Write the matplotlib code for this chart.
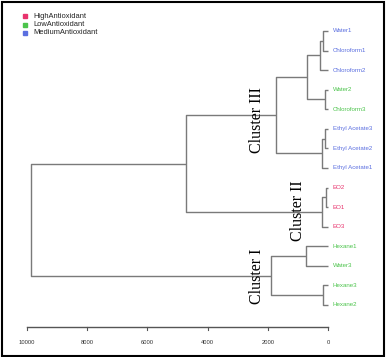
import matplotlib
matplotlib.use("Agg")
import matplotlib.pyplot as plt
from matplotlib.patches import Rectangle

# ---- data ----
leaves = ["Water1", "Chloroform1", "Chloroform2", "Water2", "Chloroform3",
          "Ethyl Acetate3", "Ethyl Acetate2", "Ethyl Acetate1",
          "EO2", "EO1", "EO3", "Hexane1", "Water3", "Hexane3", "Hexane2"]
groups = ["Medium", "Medium", "Medium", "Low", "Low",
          "Medium", "Medium", "Medium",
          "High", "High", "High", "Low", "Low", "Low", "Low"]
# merges: (child_a, child_b, height); leaves are 0..14, new nodes 15..
merges = [
    (0, 1, 150),      # 15
    (15, 2, 270),     # 16
    (3, 4, 100),      # 17
    (16, 17, 700),    # 18
    (5, 6, 90),       # 19
    (19, 7, 190),     # 20
    (18, 20, 1730),   # 21
    (8, 9, 65),       # 22
    (22, 10, 200),    # 23
    (21, 23, 4720),   # 24
    (11, 12, 730),    # 25
    (13, 14, 170),    # 26
    (25, 26, 1890),   # 27
    (24, 27, 9870),   # 28
]
xticks = [10000, 8000, 6000, 4000, 2000, 0]
legend_labels = ["HighAntioxidant", "LowAntioxidant", "MediumAntioxidant"]
legend_keys = ["High", "Low", "Medium"]
colors = {"High": "#E8336D", "Low": "#4CC44C", "Medium": "#5B6FE0"}
cluster_labels = [("Cluster III", 2350, 4.55), ("Cluster II", 1000, 9.2), ("Cluster I", 2350, 12.55)]

# ---- figure ----
W, H = 386, 357
fig = plt.figure(figsize=(W / 100, H / 100), dpi=100)
ax = fig.add_axes([0, 0, 1, 1])
ax.set_axis_off()
# pixel mapping: x=10000 at px 27, x=0 at px 328 ; leaf 0 at py 31, spacing 19.57
sx = 10000 / 301.0
ax.set_xlim(10000 + 27 * sx, 0 - (W - 328) * sx)
sp = 19.57
ax.set_ylim((H - 31) / sp, -31 / sp)

pos = {i: (0.0, float(i)) for i in range(len(leaves))}
lc = "#7a7a7a"
for k, (a, b, h) in enumerate(merges):
    node = len(leaves) + k
    xa, ya = pos[a]
    xb, yb = pos[b]
    ax.plot([xa, h, h, xb], [ya, ya, yb, yb], color=lc, lw=1.0, solid_capstyle="butt")
    pos[node] = (h, (ya + yb) / 2)

for i, (name, g) in enumerate(zip(leaves, groups)):
    ax.text(-150, i, name, color=colors[g], fontsize=4.4, va="center", ha="left",
            family="Liberation Sans")

for text, x, y in cluster_labels:
    ax.text(x, y, text, rotation=90, fontsize=11.5, family="Liberation Serif",
            ha="center", va="center", color="black")

# bottom axis
ya = (327 - 31) / sp
ax.plot([xticks[0], xticks[-1]], [ya, ya], color="#555555", lw=1.0)
for t in xticks:
    ax.plot([t, t], [ya, ya + 0.15], color="#555555", lw=0.8)
    ax.text(t, ya + 0.8, str(t), fontsize=4.2, ha="center", va="center",
            family="Liberation Sans", color="#333333")

# legend
for j, (lab, key) in enumerate(zip(legend_labels, legend_keys)):
    py = 16 + j * 8.5
    fig.patches.append(Rectangle(((25 - 2) / W, 1 - (py + 2) / H), 4 / W, 4 / H,
                                 transform=fig.transFigure, color=colors[key]))
    fig.text(33 / W, 1 - py / H, lab, fontsize=5.4, va="center", ha="left",
             family="Liberation Sans", color="#222222")

# frame
fig.patches.append(Rectangle((2 / W, 1.5 / H), (W - 4) / W, (H - 3) / H,
                             transform=fig.transFigure, fill=False,
                             edgecolor="black", lw=1.5))

fig.savefig("out.png", dpi=100)
